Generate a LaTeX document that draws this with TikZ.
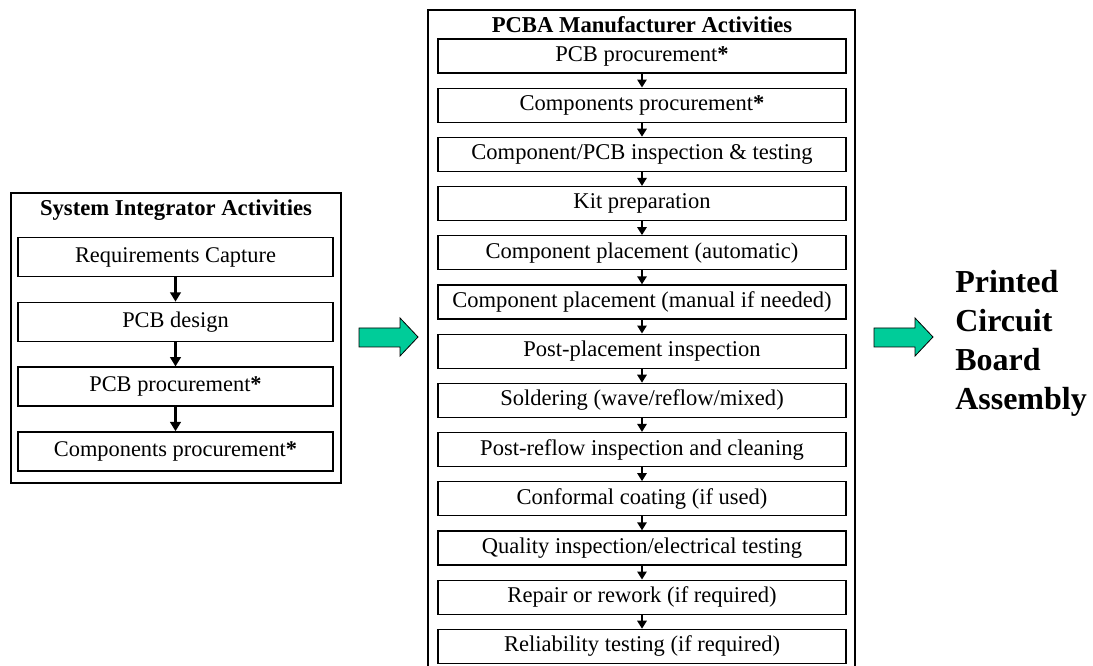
\documentclass[tikz,border=0pt]{standalone}
\usepackage{fontspec}
\setmainfont{Liberation Serif}
\usepackage{xcolor}
\usetikzlibrary{positioning, arrows.meta}
\definecolor{arrowgreen}{RGB}{0,204,153}
\newcommand{\bstar}{\textbf{*}}

\tikzset{
    frame/.style={draw, line width=1pt},
    title/.style={font=\fontsize{17}{20}\selectfont\bfseries, inner sep=0pt},
    leftbox/.style={draw, line width=1pt, minimum width=236.25pt, minimum height=29.25pt,
        inner sep=0pt, font=\fontsize{16.8}{20}\selectfont},
    midbox/.style={draw, line width=1pt, minimum width=306pt, minimum height=25.5pt,
        inner sep=0pt, font=\fontsize{16.9}{20}\selectfont},
    blockarrow/.style={draw, fill=arrowgreen, line width=0.6pt, line join=miter},
    result/.style={font=\fontsize{24}{29.25}\selectfont\bfseries, align=left, inner sep=0pt}
}

\begin{document}
\begin{tikzpicture}[x=0.75pt, y=-0.75pt, on grid]
    \useasboundingbox (0,0) rectangle (1093,666);

    % system integrator
    \draw[frame] (11,193) rectangle (341,483);
    \node[title, anchor=base] (sia) at (176,216) {System Integrator Activities};
    \begin{scope}[node distance=48.6pt]
        \node[leftbox] (req) at (175.5,257) {Requirements Capture};
        \node[leftbox, below=of req] (design) {PCB design};
        \node[leftbox, below=of design] (lpcb) {PCB procurement\bstar};
        \node[leftbox, below=of lpcb] (lcomp) {Components procurement\bstar};
    \end{scope}
    \path[every edge/.style={draw, line width=1.6pt, -{Triangle[length=7pt, width=8pt]}}]
        (req) edge (design)
        (design) edge (lpcb)
        (lpcb) edge (lcomp);

    % pcba manufacturer
    \draw[frame] (428,666) |- (855,10) -- (855,666);
    \node[title, anchor=base] (pma) at (642,33) {PCBA Manufacturer Activities};
    \begin{scope}[node distance=36.9pt]
        \node[midbox] (pcb) at (642,56) {PCB procurement\bstar};
        \node[midbox, below=of pcb] (comp) {Components procurement\bstar};
        \node[midbox, below=of comp] (insp) {Component/PCB inspection \& testing};
        \node[midbox, below=of insp] (kit) {Kit preparation};
        \node[midbox, below=of kit] (autop) {Component placement (automatic)};
        \node[midbox, below=of autop] (manp) {Component placement (manual if needed)};
        \node[midbox, below=of manp] (postp) {Post-placement inspection};
        \node[midbox, below=of postp] (solder) {Soldering (wave/reflow/mixed)};
        \node[midbox, below=of solder] (postr) {Post-reflow inspection and cleaning};
        \node[midbox, below=of postr] (coat) {Conformal coating (if used)};
        \node[midbox, below=of coat] (qual) {Quality inspection/electrical testing};
        \node[midbox, below=of qual] (repair) {Repair or rework (if required)};
        \node[midbox, below=of repair] (relia) {Reliability testing (if required)};
    \end{scope}
    \path[every edge/.style={draw, line width=1.4pt, -{Triangle[length=6pt, width=7pt]}}]
        (pcb) edge (comp)
        (comp) edge (insp)
        (insp) edge (kit)
        (kit) edge (autop)
        (autop) edge (manp)
        (manp) edge (postp)
        (postp) edge (solder)
        (solder) edge (postr)
        (postr) edge (coat)
        (coat) edge (qual)
        (qual) edge (repair)
        (repair) edge (relia);

    % block arrows and result
    \draw[blockarrow] (359,328) -- (400,328) -- (400,318) -- (418,337)
        -- (400,356) -- (400,347) -- (359,347) -- cycle;
    \draw[blockarrow, shift={(515,0)}] (359,328) -- (400,328) -- (400,318) -- (418,337)
        -- (400,356) -- (400,347) -- (359,347) -- cycle;
    \node[result, anchor=north west] (pcba) at (955,270) {Printed\\Circuit\\Board\\Assembly};
\end{tikzpicture}
\end{document}
